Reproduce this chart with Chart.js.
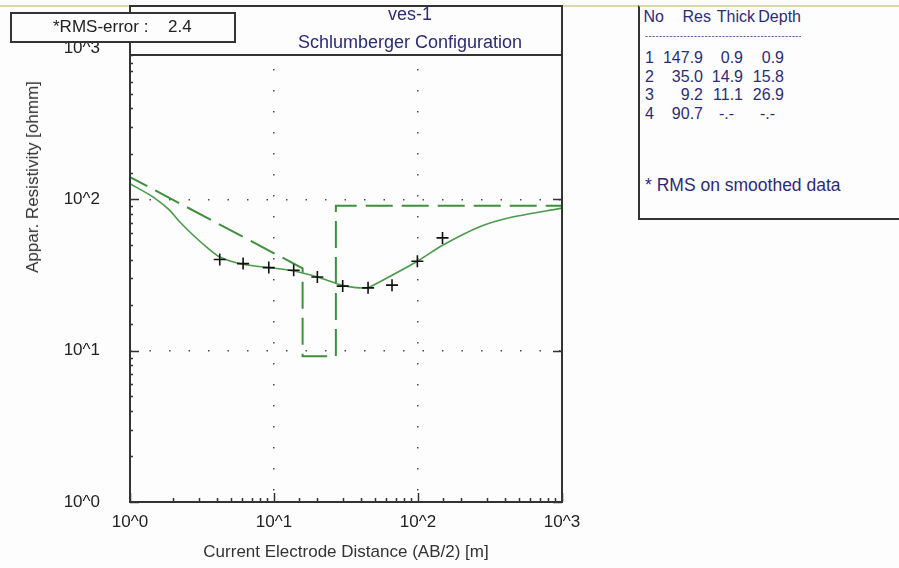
<!DOCTYPE html>
<html>
<head>
<meta charset="utf-8">
<title>ves-1</title>
<script src="https://cdn.jsdelivr.net/npm/chart.js@4.4.1/dist/chart.umd.min.js"></script>
<style>
  body { margin: 0; background: #fdfdfd; font-family: "Liberation Sans", Arial, sans-serif; }
  #wrap { position: relative; width: 899px; height: 568px; overflow: hidden; background: #fdfdfd; }
  #topline { position: absolute; left: 0; top: 5px; width: 899px; height: 2px; background: #e2d5a6; }
  .box { position: absolute; box-sizing: border-box; background: #fdfdfd; }
  .box span { position: absolute; white-space: pre; }
  #titleBox { left: 129px; top: 5px; width: 434px; height: 51px; border: 2px solid #333; }
  #titleBox div { position: absolute; left: 0; width: 100%; text-align: center; color: #2c2c74; font-size: 18px; }
  #rmsBox { left: 10px; top: 12px; width: 226px; height: 31px; border: 2px solid #333; font-size: 17px; color: #222; }
  #tableBox { left: 638px; top: 5px; width: 280px; height: 215px; border: 2px solid #333; border-top-color: #e2d5a6;
              color: #2c2c74; font-size: 16px; }
  #dashes { position: absolute; left: 5px; top: 24px; width: 156px; height: 10px; overflow: hidden;
            font-size: 9px; line-height: 10px; letter-spacing: 0.5px; white-space: nowrap; }
  #yTitle { position: absolute; left: 33px; top: 177px; transform: translate(-50%, -50%) rotate(-90deg);
            white-space: nowrap; font-size: 17px; color: #333; }
</style>
</head>
<body>
<div id="wrap">
  <canvas id="ves" width="899" height="568"></canvas>
  <div id="topline"></div>
  <div id="titleBox" class="box">
    <div style="top:-3px;margin-left:64px">ves-1</div>
    <div style="top:25px;margin-left:64px">Schlumberger Configuration</div>
  </div>
  <div id="rmsBox" class="box"><span style="left:41px;top:3px">*RMS-error :</span><span style="left:156px;top:3px">2.4</span></div>
  <div id="tableBox" class="box"><div id="dashes"></div></div>
  <div id="yTitle">Appar. Resistivity [ohmm]</div>
</div>
<script>
// ---- Data ----
// observed field data (AB/2 in m, apparent resistivity in ohmm)
const abHalf = [4.2, 6.1, 9.2, 13.7, 20, 30, 45, 66, 99, 148];
const rhoObs = [40.0, 37.6, 35.4, 34.0, 30.7, 26.7, 26.0, 27.1, 39.0, 55.6];

// calculated curve of the model
const calcAB  = [1, 1.45, 1.89, 2.22, 2.75, 3.4, 4.2, 6.1, 9.2, 13.7, 20, 30, 37, 45, 60, 99, 148, 266, 453, 955, 1000];
const calcRho = [127, 103.5, 84.6, 70.8, 57.9, 48.4, 41.6, 37.2, 35.4, 33.6, 30.7, 27.0, 26.1, 26.1, 30.0, 39.0, 49.7, 65.7, 76.4, 86.8, 87.5];

// layer model (table on the right)
const layerNo    = [1, 2, 3, 4];
const layerRes   = [147.9, 35.0, 9.2, 90.7];
const layerThick = [0.9, 14.9, 11.1, null];
const layerDepth = [0.9, 15.8, 26.9, null];

const axisMin = 1, axisMax = 1000;
const tickLabels = { 1: "10^0", 10: "10^1", 100: "10^2", 1000: "10^3" };

// ---- Helpers ----
const isPow10 = v => Math.abs(Math.log10(v) - Math.round(Math.log10(v))) < 1e-9;
const fmt = v => (v == null ? "-.-" : v.toFixed(1));
const FONT = "'Liberation Sans', Arial";

// model drawn as the program does: first layer slanted into the second, then steps
function modelPoints() {
  const pts = [{ x: layerDepth[0], y: layerRes[0] }];
  for (let i = 1; i < layerRes.length; i++) {
    if (layerDepth[i] != null) {
      if (i > 1) pts.push({ x: layerDepth[i - 1], y: layerRes[i] });
      pts.push({ x: layerDepth[i], y: layerRes[i] });
    } else {
      pts.push({ x: layerDepth[i - 1], y: layerRes[i] });
      pts.push({ x: axisMax, y: layerRes[i] });
    }
  }
  return pts;
}

// ---- Layer table ----
function fillTable() {
  const box = document.getElementById("tableBox");
  const x0 = 640;  // page x of the inside of the box
  const put = (txt, pageRight, top) => {
    const s = document.createElement("span");
    s.textContent = txt;
    s.style.right = (276 - (pageRight - x0)) + "px";
    s.style.top = top + "px";
    box.appendChild(s);
    return s;
  };
  put("No", 664, 1); put("Res", 711, 1); put("Thick", 755, 1); put("Depth", 801, 1);
  document.getElementById("dashes").textContent = "-".repeat(60);
  layerNo.forEach((n, i) => {
    const top = 42 + i * 18.5;
    put(String(n), 654, top);
    put(fmt(layerRes[i]), 703, top);
    put(layerThick[i] == null ? "-.-  " : fmt(layerThick[i]), 743, top);
    put(layerDepth[i] == null ? "-.-  " : fmt(layerDepth[i]), 784, top);
  });
  const note = document.createElement("span");
  note.textContent = "* RMS on smoothed data";
  note.style.left = "5px"; note.style.top = "168px"; note.style.fontSize = "17.5px";
  box.appendChild(note);
}

// ---- Frame + inside tick marks ----
const frameTicks = {
  id: "frameTicks",
  afterDatasetsDraw(chart) {
    const { ctx, chartArea: a, scales } = chart;
    ctx.save();
    ctx.strokeStyle = "#333";
    ctx.lineWidth = 1.5;
    ctx.beginPath();
    scales.x.ticks.forEach(t => {
      const px = Math.round(scales.x.getPixelForValue(t.value)) + 0.5;
      const len = isPow10(t.value) ? 9 : 4;
      ctx.moveTo(px, a.bottom); ctx.lineTo(px, a.bottom - len);
    });
    scales.y.ticks.forEach(t => {
      const py = Math.round(scales.y.getPixelForValue(t.value)) + 0.5;
      const major = isPow10(t.value);
      ctx.moveTo(a.left, py); ctx.lineTo(a.left + (major ? 9 : 3), py);
      if (major) { ctx.moveTo(a.right, py); ctx.lineTo(a.right - 9, py); }
    });
    ctx.stroke();
    ctx.lineWidth = 2;
    ctx.strokeRect(a.left, a.top, a.right - a.left, a.bottom - a.top);
    ctx.restore();
  }
};

const innerMajor = c => {
  const v = c.tick && c.tick.value;
  return v && isPow10(v) && v > axisMin && v < axisMax ? "#4a4a4a" : "rgba(0,0,0,0)";
};

function makeChart() {
  const ctx = document.getElementById("ves").getContext("2d");
  new Chart(ctx, {
    type: "scatter",
    data: {
      datasets: [
        {
          label: "observed",
          data: abHalf.map((x, i) => ({ x, y: rhoObs[i] })),
          pointStyle: "cross",
          pointRadius: 6,
          pointBorderWidth: 1.6,
          borderColor: "#111",
          showLine: false,
          order: 0
        },
        {
          label: "calculated",
          data: calcAB.map((x, i) => ({ x, y: calcRho[i] })),
          showLine: true,
          borderColor: "#4c9a4c",
          borderWidth: 1.6,
          pointRadius: 0,
          tension: 0.25,
          order: 1
        },
        {
          label: "model",
          data: modelPoints(),
          showLine: true,
          borderColor: "#3f8f3f",
          borderWidth: 2,
          borderDash: [27, 9],
          pointRadius: 0,
          tension: 0,
          order: 2
        }
      ]
    },
    options: {
      responsive: false,
      animation: false,
      devicePixelRatio: 1,
      layout: { padding: { left: 0, top: 48, right: 337, bottom: 0 } },
      plugins: { legend: { display: false }, tooltip: { enabled: false } },
      scales: {
        x: {
          type: "logarithmic",
          min: axisMin, max: axisMax,
          afterFit: s => { s.height = 66; },
          grid: { color: innerMajor, lineWidth: 1.5, drawTicks: false },
          border: { display: false, dash: [1.5, 19.5] },
          ticks: {
            autoSkip: false, maxRotation: 0, padding: 10,
            color: "#222", font: { size: 17, family: FONT },
            callback: v => tickLabels[v] || ""
          },
          title: {
            display: true, text: "Current Electrode Distance (AB/2) [m]",
            color: "#333", font: { size: 17, family: FONT },
            padding: { top: 0, bottom: 5 }
          }
        },
        y: {
          type: "logarithmic",
          min: axisMin, max: axisMax,
          afterFit: s => { s.width = 130; },
          grid: { color: innerMajor, lineWidth: 1.5, drawTicks: false },
          border: { display: false, dash: [1.5, 18] },
          ticks: {
            autoSkip: false, padding: 30,
            color: "#222", font: { size: 17, family: FONT },
            callback: v => tickLabels[v] || ""
          }
        }
      }
    },
    plugins: [frameTicks]
  });
}

document.addEventListener("DOMContentLoaded", () => {
  fillTable();
  makeChart();
});
</script>
</body>
</html>
